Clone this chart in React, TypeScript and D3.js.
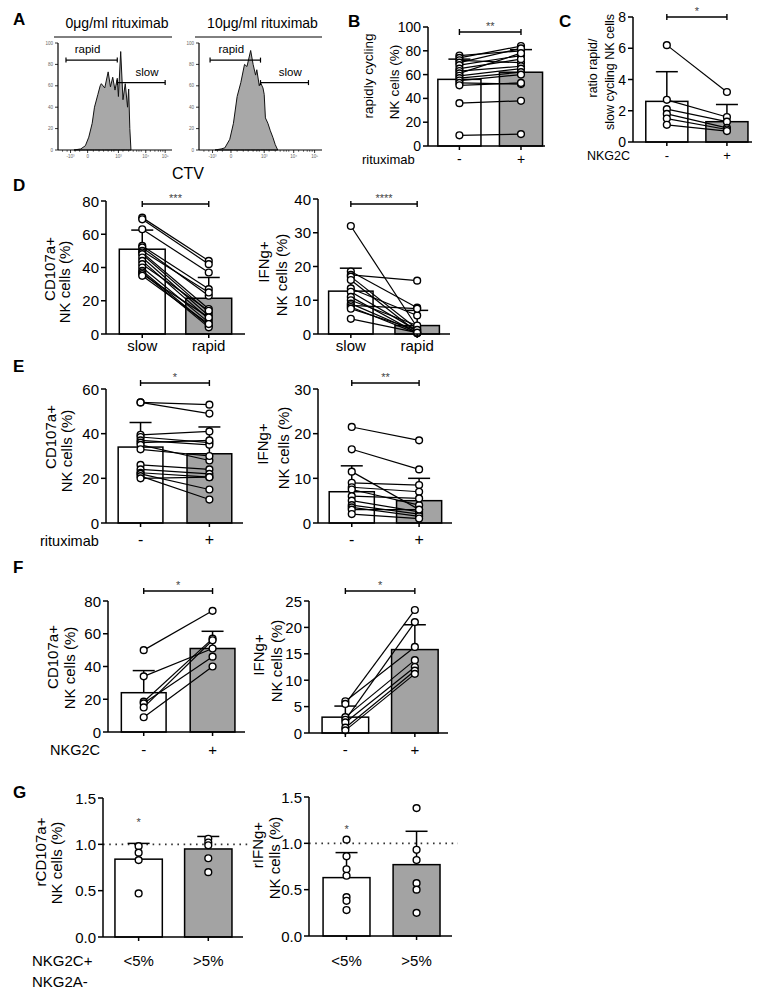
import React from "react";
import * as d3 from "d3";

const FONT = "Arial, 'Liberation Sans', Helvetica, sans-serif";
const GREY = "#a3a3a3";

// ---- A: CTV dilution histograms (channel units 0-100, % of max) ----
const ctvTickValues = [11, 26, 53, 77, 94];
const ctvTickLabels = ["-10³", "0", "10³", "10⁴", "10⁵"];
const ctvMinorTicks = [4, 8, 15, 19, 31, 36, 40, 44, 47, 49, 57, 62, 66, 69, 71, 73, 81, 85, 88, 90, 92];
const histYTicks = [0, 20, 40, 60, 80, 100];
const histNoRitux: [number, number][] = [
  [14, 0], [20, 1], [24, 4], [27, 12], [30, 25], [32, 40], [35, 52], [37, 60], [38, 62], [41, 58],
  [44, 73], [46, 59], [48, 68], [50, 56], [52, 67], [53, 50], [55, 92], [57, 47], [59, 62], [61, 40],
  [62, 57], [63, 20], [64, 0],
];
const histRitux: [number, number][] = [
  [13, 0], [18, 1], [21, 2], [25, 10], [28, 25], [31, 50], [34, 63], [37, 80], [39, 78], [42, 93],
  [44, 80], [46, 70], [47, 75], [49, 60], [50, 63], [52, 58], [53, 52], [54, 30], [56, 25], [58, 18],
  [60, 12], [62, 5], [64, 0],
];
const gateRapidNoRitux = [7, 52];
const gateSlowNoRitux = [52, 94];
const gateRapidRitux = [9, 50];
const gateSlowRitux = [50, 89];
const gateHeights = [84, 63]; // rapid, slow

// ---- B: rapidly cycling NK cells (%) ----
const bCategories = ["-", "+"];
const bMeans = [56, 62];
const bSdTop = [73, 81];
const bNoRitux = [76, 74, 72, 70, 68, 65, 63, 61, 59, 57, 55, 53, 51, 36, 9];
const bRitux = [80, 84, 70, 82, 76, 73, 67, 78, 65, 62, 60, 52, 53, 38, 10];

// ---- C: ratio rapid / slow ----
const cCategories = ["-", "+"];
const cMeans = [2.6, 1.3];
const cSdTop = [4.5, 2.4];
const cNeg = [6.2, 2.7, 2.1, 1.8, 1.5, 1.1];
const cPos = [3.2, 1.6, 1.3, 0.9, 0.8, 0.7];

// ---- D: slow vs rapid ----
const dCategories = ["slow", "rapid"];
const dCdMeans = [51, 21.5];
const dCdSdTop = [62.5, 34];
const dCdSlow = [70, 69, 63, 53, 52, 50, 49, 48, 46, 44, 42, 40, 38, 37, 36, 35];
const dCdRapid = [44, 42, 37, 27, 23, 25, 15, 13, 11, 9, 14, 7, 5, 4, 10, 6];
const dIfnMeans = [12.7, 2.5];
const dIfnSdTop = [19.5, 7];
const dIfnSlow = [32, 18.5, 17.5, 17, 16, 13.5, 12.5, 11, 10, 9, 8.5, 8, 7.5, 4.5];
const dIfnRapid = [2, 7.8, 15.8, 1.5, 0.5, 5.5, 1, 0.3, 2.5, 0.5, 7.5, 0.2, 1.2, 0.4];

// ---- E: rituximab ----
const eCategories = ["-", "+"];
const eCdMeans = [34, 31];
const eCdSdTop = [45, 43];
const eCdNeg = [54, 54, 39.5, 38.5, 37, 36, 35, 33, 26, 24, 22.5, 22, 21, 20];
const eCdPos = [53, 49, 41, 36, 35, 37, 28, 30, 24, 22, 20.5, 15, 10.5, 20.5];
const eIfnMeans = [7, 5];
const eIfnSdTop = [12.8, 10];
const eIfnNeg = [21.5, 16.5, 11.5, 9, 8, 7.5, 6, 5, 4, 3.5, 3, 2];
const eIfnPos = [18.5, 12, 3, 8.5, 7, 4, 5.5, 2.5, 2, 1.5, 3, 1];

// ---- F: NKG2C ----
const fCategories = ["-", "+"];
const fCdMeans = [24, 51];
const fCdSdTop = [37.5, 61.5];
const fCdNeg = [50, 34, 18.5, 17.5, 15, 9];
const fCdPos = [74, 51, 57, 46, 56, 40];
const fIfnMeans = [3, 15.8];
const fIfnSdTop = [5.1, 20.5];
const fIfnNeg = [6, 5.5, 3, 2.5, 2, 1, 0.5];
const fIfnPos = [16.3, 23.3, 13.8, 21, 12.5, 11.8, 11.2];

// ---- G: relative response by NKG2C+NKG2A- frequency ----
const gCategories = ["<5%", ">5%"];
const gCdMeans = [0.84, 0.95];
const gCdSdTop = [1.01, 1.085];
const gCdLow = [0.98, 0.91, 0.83, 0.47];
const gCdHigh = [1.06, 1.02, 0.99, 0.85, 0.7];
const gIfnMeans = [0.63, 0.77];
const gIfnSdTop = [0.9, 1.13];
const gIfnLow = [1.04, 0.86, 0.72, 0.65, 0.42, 0.38, 0.28];
const gIfnHigh = [1.38, 0.93, 0.82, 0.57, 0.5, 0.25];

function Histogram({ left, right, top, bottom, title, data, rapid, slow }: any) {
  const x = d3.scaleLinear().domain([0, 100]).range([left, right]);
  const y = d3.scaleLinear().domain([0, 100]).range([bottom, top]);
  const area = d3
    .area<[number, number]>()
    .x((d) => x(d[0]))
    .y0(y(0))
    .y1((d) => y(d[1]));
  const gates = [rapid, slow];
  const names = ["rapid", "slow"];
  return (
    <g>
      <text x={(left + right) / 2 + 2} y={28} fontSize={14} textAnchor="middle">{title}</text>
      <line x1={left - 4} x2={right} y1={37} y2={37} stroke="#000" strokeWidth={1} />
      <path d={area(data) || ""} fill="#a8a8a8" stroke="#111" strokeWidth={1} />
      <line x1={left} x2={left} y1={top} y2={bottom} stroke="#000" strokeWidth={1.2} />
      <line x1={left} x2={right} y1={bottom} y2={bottom} stroke="#000" strokeWidth={1.2} />
      {histYTicks.map((t) => (
        <g key={t}>
          <line x1={left - 3} x2={left} y1={y(t)} y2={y(t)} stroke="#000" strokeWidth={0.8} />
          <text x={left - 5} y={y(t)} fontSize={4.5} fill="#666" textAnchor="end" dominantBaseline="central">{t}</text>
        </g>
      ))}
      {ctvTickValues.map((t, i) => (
        <g key={t}>
          <line x1={x(t)} x2={x(t)} y1={bottom} y2={bottom + 3} stroke="#000" strokeWidth={0.8} />
          <text x={x(t)} y={bottom + 8} fontSize={4.5} fill="#666" textAnchor="middle">{ctvTickLabels[i]}</text>
        </g>
      ))}
      {ctvMinorTicks.map((t) => (
        <line key={t} x1={x(t)} x2={x(t)} y1={bottom} y2={bottom + 1.8} stroke="#000" strokeWidth={0.6} />
      ))}
      {gates.map((g: number[], i: number) => {
        const gy = y(gateHeights[i]);
        const x1 = x(g[0]);
        const x2 = x(g[1]);
        return (
          <g key={i}>
            <line x1={x1} x2={x2} y1={gy} y2={gy} stroke="#000" strokeWidth={1.2} />
            <line x1={x1} x2={x1} y1={gy - 2.5} y2={gy + 2.5} stroke="#000" strokeWidth={1.2} />
            <line x1={x2} x2={x2} y1={gy - 2.5} y2={gy + 2.5} stroke="#000" strokeWidth={1.2} />
            <text x={x1 + (x2 - x1) * (i === 0 ? 0.42 : 0.62)} y={gy - 7} fontSize={11.5} textAnchor="middle">{names[i]}</text>
          </g>
        );
      })}
    </g>
  );
}

type BarPanelProps = {
  range: [number, number];
  pi: number;
  po: number;
  align: number;
  yRange: [number, number];
  yMax: number;
  ticks: number[];
  fmt?: (n: number) => string;
  categories: string[];
  means: number[];
  sdTop: number[];
  pairs?: number[][];
  groups?: number[][];
  stars: string;
  bracketY?: number;
  starY?: number;
  refLine?: number;
  font: number;
  catFont: number;
  catY: number;
};

function BarPanel(p: BarPanelProps) {
  const x = d3
    .scaleBand<string>()
    .domain(p.categories)
    .range(p.range)
    .paddingInner(p.pi)
    .paddingOuter(p.po)
    .align(p.align);
  const y = d3.scaleLinear().domain([0, p.yMax]).range(p.yRange);
  const bw = x.bandwidth();
  const cx = p.categories.map((c) => (x(c) ?? 0) + bw / 2);
  const fmt = p.fmt ?? d3.format("d");
  const y0 = y(0);
  const sw = 1.5;
  return (
    <g>
      {p.refLine !== undefined && (
        <line x1={p.range[0]} x2={p.range[1] + 6} y1={y(p.refLine)} y2={y(p.refLine)} stroke="#333" strokeWidth={1.6} strokeDasharray="1.6 4.6" />
      )}
      {p.categories.map((c, i) => (
        <rect key={c} x={x(c)} y={y(p.means[i])} width={bw} height={y0 - y(p.means[i])} fill={i === 0 ? "#fff" : GREY} stroke="#000" strokeWidth={sw} />
      ))}
      {p.categories.map((c, i) => (
        <g key={c}>
          <line x1={cx[i]} x2={cx[i]} y1={y(p.means[i])} y2={y(p.sdTop[i])} stroke="#000" strokeWidth={sw} />
          <line x1={cx[i] - 11} x2={cx[i] + 11} y1={y(p.sdTop[i])} y2={y(p.sdTop[i])} stroke="#000" strokeWidth={sw} />
        </g>
      ))}
      {p.pairs &&
        p.pairs[0].map((v, j) => (
          <line key={j} x1={cx[0]} x2={cx[1]} y1={y(v)} y2={y(p.pairs![1][j])} stroke="#000" strokeWidth={1.2} />
        ))}
      {p.pairs &&
        p.pairs.map((vals, i) =>
          vals.map((v, j) => <circle key={i + "-" + j} cx={cx[i]} cy={y(v)} r={3.4} fill="#fff" stroke="#000" strokeWidth={1.4} />)
        )}
      {p.groups &&
        p.groups.map((vals, i) =>
          vals.map((v, j) => <circle key={i + "-" + j} cx={cx[i]} cy={y(v)} r={3.4} fill="#fff" stroke="#000" strokeWidth={1.4} />)
        )}
      {/* axes */}
      <line x1={p.range[0]} x2={p.range[0]} y1={y0} y2={y(p.yMax)} stroke="#000" strokeWidth={sw} />
      <line x1={p.range[0]} x2={p.range[1]} y1={y0} y2={y0} stroke="#000" strokeWidth={sw} />
      {p.ticks.map((t) => (
        <g key={t}>
          <line x1={p.range[0] - 5} x2={p.range[0]} y1={y(t)} y2={y(t)} stroke="#000" strokeWidth={sw} />
          <text x={p.range[0] - 7} y={y(t)} fontSize={p.font} textAnchor="end" dominantBaseline="central">{fmt(t)}</text>
        </g>
      ))}
      {p.categories.map((c, i) => (
        <g key={c}>
          <line x1={cx[i]} x2={cx[i]} y1={y0} y2={y0 + 4} stroke="#000" strokeWidth={sw} />
          <text x={cx[i]} y={p.catY} fontSize={p.catFont} textAnchor="middle">{c}</text>
        </g>
      ))}
      {p.bracketY !== undefined && (
        <g>
          <line x1={cx[0]} x2={cx[1]} y1={p.bracketY} y2={p.bracketY} stroke="#000" strokeWidth={1.4} />
          <line x1={cx[0]} x2={cx[0]} y1={p.bracketY - 3} y2={p.bracketY + 3} stroke="#000" strokeWidth={1.4} />
          <line x1={cx[1]} x2={cx[1]} y1={p.bracketY - 3} y2={p.bracketY + 3} stroke="#000" strokeWidth={1.4} />
          <text x={(cx[0] + cx[1]) / 2} y={p.bracketY - 2} fontSize={11} fill="#444" textAnchor="middle">{p.stars}</text>
        </g>
      )}
      {p.starY !== undefined && (
        <text x={cx[0]} y={p.starY} fontSize={11} fill="#444" textAnchor="middle">{p.stars}</text>
      )}
    </g>
  );
}

function YLabel({ x, y, text, size }: { x: number; y: number; text: string; size: number }) {
  return (
    <text transform={`translate(${x},${y}) rotate(-90)`} fontSize={size} textAnchor="middle" dominantBaseline="central">
      {text}
    </text>
  );
}

function Letter({ x, y, t }: { x: number; y: number; t: string }) {
  return (
    <text x={x} y={y} fontSize={17} fontWeight="bold">{t}</text>
  );
}

export default function App() {
  const f1 = d3.format(".1f");
  return (
    <svg width={765} height={991} style={{ position: "absolute", left: 0, top: 0, background: "#fff" }} fontFamily={FONT}>
      <rect width={765} height={991} fill="#fff" />

      {/* A */}
      <Letter x={13} y={25} t="A" />
      <Histogram left={58} right={172} top={43} bottom={150} title="0μg/ml rituximab" data={histNoRitux} rapid={gateRapidNoRitux} slow={gateSlowNoRitux} />
      <Histogram left={199} right={322} top={43} bottom={150} title="10μg/ml rituximab" data={histRitux} rapid={gateRapidRitux} slow={gateSlowRitux} />
      <text x={188} y={179} fontSize={16} textAnchor="middle">CTV</text>

      {/* B */}
      <Letter x={348} y={27} t="B" />
      <BarPanel range={[428, 545]} pi={0.3} po={0.1} align={0.8} yRange={[146, 27]} yMax={100} ticks={[0, 20, 40, 60, 80, 100]}
        categories={bCategories} means={bMeans} sdTop={bSdTop} pairs={[bNoRitux, bRitux]} stars="**" bracketY={32}
        font={14} catFont={14} catY={164} />
      <YLabel x={368} y={76} text="rapidly cycling" size={13.5} />
      <YLabel x={394} y={82} text="NK cells (%)" size={13.5} />
      <text x={362} y={164} fontSize={13}>rituximab</text>

      {/* C */}
      <Letter x={559} y={27} t="C" />
      <BarPanel range={[633, 752]} pi={0.3} po={0.14} align={0.76} yRange={[142, 17]} yMax={8} ticks={[0, 2, 4, 6, 8]}
        categories={cCategories} means={cMeans} sdTop={cSdTop} pairs={[cNeg, cPos]} stars="*" bracketY={17}
        font={14} catFont={13} catY={160} />
      <YLabel x={593} y={68} text="ratio rapid/" size={12.5} />
      <YLabel x={610} y={72} text="slow cycling NK cells" size={12.5} />
      <text x={587} y={160} fontSize={12.5}>NKG2C</text>

      {/* D */}
      <Letter x={13} y={191} t="D" />
      <BarPanel range={[106, 245]} pi={0.31} po={0.2} align={0.5} yRange={[334, 201]} yMax={80} ticks={[0, 20, 40, 60, 80]}
        categories={dCategories} means={dCdMeans} sdTop={dCdSdTop} pairs={[dCdSlow, dCdRapid]} stars="***" bracketY={204}
        font={15} catFont={15} catY={351} />
      <YLabel x={49} y={269} text="CD107a+" size={15} />
      <YLabel x={64} y={282} text="NK cells (%)" size={15} />
      <BarPanel range={[318, 450]} pi={0.33} po={0.16} align={0.5} yRange={[334, 199]} yMax={40} ticks={[0, 10, 20, 30, 40]}
        categories={dCategories} means={dIfnMeans} sdTop={dIfnSdTop} pairs={[dIfnSlow, dIfnRapid]} stars="****" bracketY={204}
        font={15} catFont={15} catY={351} />
      <YLabel x={263} y={262} text="IFNg+" size={15} />
      <YLabel x={281} y={275} text="NK cells (%)" size={15} />

      {/* E */}
      <Letter x={13} y={372} t="E" />
      <BarPanel range={[106, 243]} pi={0.35} po={0.17} align={0.52} yRange={[523, 389]} yMax={60} ticks={[0, 20, 40, 60]}
        categories={eCategories} means={eCdMeans} sdTop={eCdSdTop} pairs={[eCdNeg, eCdPos]} stars="*" bracketY={383}
        font={15} catFont={16} catY={545} />
      <YLabel x={50} y={437} text="CD107a+" size={15} />
      <YLabel x={66} y={451} text="NK cells (%)" size={15} />
      <text x={40} y={546} fontSize={14.5}>rituximab</text>
      <BarPanel range={[318, 452]} pi={0.33} po={0.16} align={0.52} yRange={[523, 389]} yMax={30} ticks={[0, 10, 20, 30]}
        categories={eCategories} means={eIfnMeans} sdTop={eIfnSdTop} pairs={[eIfnNeg, eIfnPos]} stars="**" bracketY={383}
        font={15} catFont={16} catY={545} />
      <YLabel x={262} y={444} text="IFNg+" size={15} />
      <YLabel x={283} y={448} text="NK cells (%)" size={15} />

      {/* F */}
      <Letter x={13} y={573} t="F" />
      <BarPanel range={[108, 245]} pi={0.35} po={0.17} align={0.57} yRange={[732, 601]} yMax={80} ticks={[0, 20, 40, 60, 80]}
        categories={fCategories} means={fCdMeans} sdTop={fCdSdTop} pairs={[fCdNeg, fCdPos]} stars="*" bracketY={591}
        font={15} catFont={15} catY={755} />
      <YLabel x={52} y={657} text="CD107a+" size={15} />
      <YLabel x={69} y={668} text="NK cells (%)" size={15} />
      <text x={50} y={755} fontSize={14.5}>NKG2C</text>
      <BarPanel range={[309, 448]} pi={0.33} po={0.165} align={0.57} yRange={[733, 601]} yMax={25} ticks={[0, 5, 10, 15, 20, 25]}
        categories={fCategories} means={fIfnMeans} sdTop={fIfnSdTop} pairs={[fIfnNeg, fIfnPos]} stars="*" bracketY={591}
        font={15} catFont={15} catY={755} />
      <YLabel x={258} y={655} text="IFNg+" size={15} />
      <YLabel x={276} y={661} text="NK cells (%)" size={15} />

      {/* G */}
      <Letter x={13} y={798} t="G" />
      <BarPanel range={[103, 243]} pi={0.32} po={0.165} align={0.52} yRange={[937, 798]} yMax={1.5} ticks={[0, 0.5, 1, 1.5]} fmt={f1}
        categories={gCategories} means={gCdMeans} sdTop={gCdSdTop} groups={[gCdLow, gCdHigh]} stars="*" starY={826} refLine={1}
        font={15} catFont={15} catY={966} />
      <YLabel x={40} y={852} text="rCD107a+" size={15} />
      <YLabel x={56} y={863} text="NK cells (%)" size={15} />
      <text x={32} y={966} fontSize={15}>NKG2C+</text>
      <text x={32} y={987} fontSize={15}>NKG2A-</text>
      <BarPanel range={[309, 452]} pi={0.33} po={0.186} align={0.54} yRange={[936, 797]} yMax={1.5} ticks={[0, 0.5, 1, 1.5]} fmt={f1}
        categories={gCategories} means={gIfnMeans} sdTop={gIfnSdTop} groups={[gIfnLow, gIfnHigh]} stars="*" starY={833} refLine={1}
        font={15} catFont={15} catY={966} />
      <YLabel x={257} y={845} text="rIFNg+" size={15} />
      <YLabel x={274} y={858} text="NK cells (%)" size={15} />
    </svg>
  );
}
